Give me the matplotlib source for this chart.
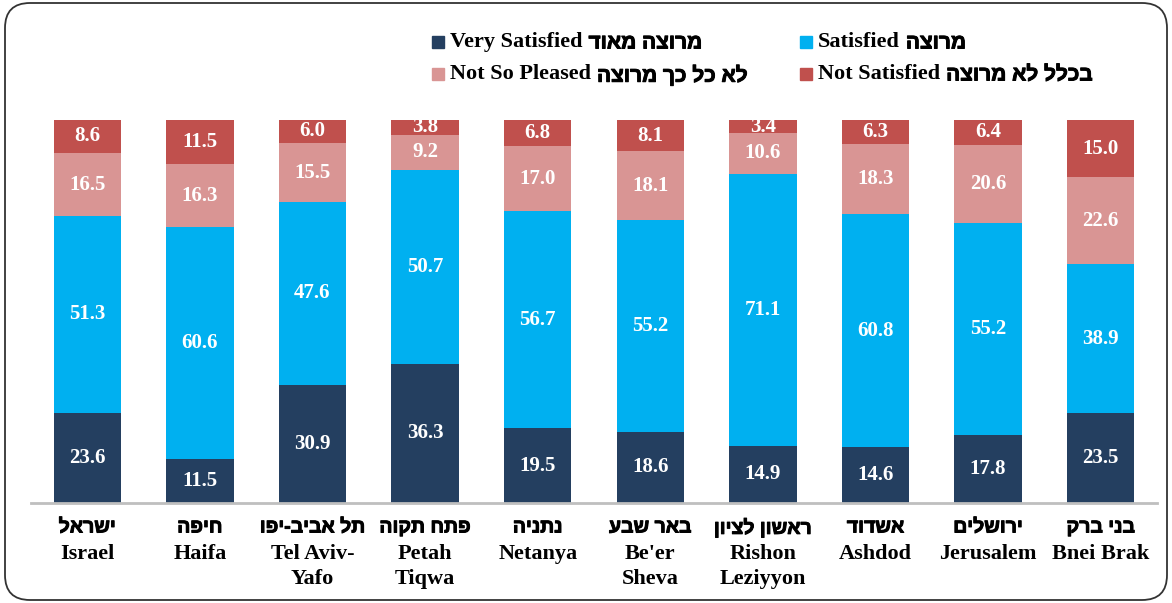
import matplotlib.pyplot as plt
import matplotlib.patheffects as pe
from matplotlib.patches import FancyBboxPatch, Rectangle

# Satisfaction with area of residence by city (%)
cities_he = ["ישראל", "חיפה", "תל אביב-יפו", "פתח תקוה", "נתניה",
             "באר שבע", "ראשון לציון", "אשדוד", "ירושלים", "בני ברק"]
cities_en = ["Israel", "Haifa", "Tel Aviv-\nYafo", "Petah\nTiqwa", "Netanya",
             "Be'er\nSheva", "Rishon\nLeziyyon", "Ashdod", "Jerusalem", "Bnei Brak"]

very_satisfied = [23.6, 11.5, 30.9, 36.3, 19.5, 18.6, 14.9, 14.6, 17.8, 23.5]
satisfied = [51.3, 60.6, 47.6, 50.7, 56.7, 55.2, 71.1, 60.8, 55.2, 38.9]
not_so_pleased = [16.5, 16.3, 15.5, 9.2, 17.0, 18.1, 10.6, 18.3, 20.6, 22.6]
not_satisfied = [8.6, 11.5, 6.0, 3.8, 6.8, 8.1, 3.4, 6.3, 6.4, 15.0]

series_en = ["Very Satisfied", "Satisfied", "Not So Pleased", "Not Satisfied"]
series_he = ["מרוצה מאוד", "מרוצה", "לא כל כך מרוצה", "בכלל לא מרוצה"]
colors = ["#243F60", "#00B0F0", "#D99594", "#C0504D"]

W, H = 1172, 603


def rtl(s):
    # matplotlib has no bidi support, so feed Hebrew in visual order
    return s[::-1]


SERIF = ["Liberation Serif", "DejaVu Serif"]
HEB = ["Liberation Sans", "DejaVu Sans"]
heavy = [pe.withStroke(linewidth=0.7, foreground="black")]
plt.rcParams["font.family"] = SERIF

fig = plt.figure(figsize=(W / 100, H / 100), dpi=100)
ax = fig.add_axes([31 / W, 100 / H, 1126 / W, 383 / H])

x = list(range(len(cities_en)))
data = [very_satisfied, satisfied, not_so_pleased, not_satisfied]
bottom = [0.0] * len(x)
for vals, col in zip(data, colors):
    bars = ax.bar(x, vals, width=0.6, bottom=bottom, color=col, zorder=2)
    for b, v, b0 in zip(bars, vals, bottom):
        ax.text(b.get_x() + b.get_width() / 2, b0 + v / 2, f"{v:.1f}",
                ha="center", va="center", color="white", fontsize=15,
                fontweight="bold", zorder=3)
    bottom = [a + v for a, v in zip(bottom, vals)]

ax.set_xlim(-0.5, len(x) - 0.5)
ax.set_ylim(0, 100)
ax.set_yticks([])
for side in ["top", "right", "left"]:
    ax.spines[side].set_visible(False)
ax.spines["bottom"].set_color("#BFBFBF")
ax.spines["bottom"].set_linewidth(2)
ax.set_xticks(x)
ax.set_xticklabels([])
ax.tick_params(axis="x", length=0)

# category labels: Hebrew line, then English lines (offsets in points, 1pt = 1.389px)
px = 72 / 100
for i, (he, en) in enumerate(zip(cities_he, cities_en)):
    ax.annotate(rtl(he), xy=(i, 0), xycoords=("data", "axes fraction"),
                xytext=(0, -25 * px), textcoords="offset points",
                ha="center", va="center", fontsize=14, fontweight="bold",
                family=HEB, path_effects=heavy)
    for k, line in enumerate(en.split("\n")):
        ax.annotate(line, xy=(i, 0), xycoords=("data", "axes fraction"),
                    xytext=(0, -(51 + 25 * k) * px), textcoords="offset points",
                    ha="center", va="center", fontsize=16, fontweight="bold")

# legend, two rows by two columns
fig.canvas.draw()
renderer = fig.canvas.get_renderer()
legend_pos = [(432, 42), (800, 42), (432, 74), (800, 74)]
for (lx, ly), en, he, col in zip(legend_pos, series_en, series_he, colors):
    fig.patches.append(Rectangle((lx / W, 1 - (ly + 6) / H), 12 / W, 12 / H,
                                 transform=fig.transFigure, color=col))
    t = fig.text((lx + 18) / W, 1 - ly / H, en, ha="left", va="center",
                 fontsize=16, fontweight="bold")
    bb = t.get_window_extent(renderer)
    fig.text((bb.x1 + 6) / W, 1 - (ly + 1) / H, rtl(he), ha="left", va="center",
             fontsize=15, fontweight="bold", family=HEB, path_effects=heavy)

frame = FancyBboxPatch((0.05, 0.03), 11.62, 5.97,
                       boxstyle="round,pad=0,rounding_size=0.25",
                       transform=fig.dpi_scale_trans, fill=False,
                       edgecolor="#333333", linewidth=1.3)
fig.patches.append(frame)

fig.savefig("out.png", dpi=100)
